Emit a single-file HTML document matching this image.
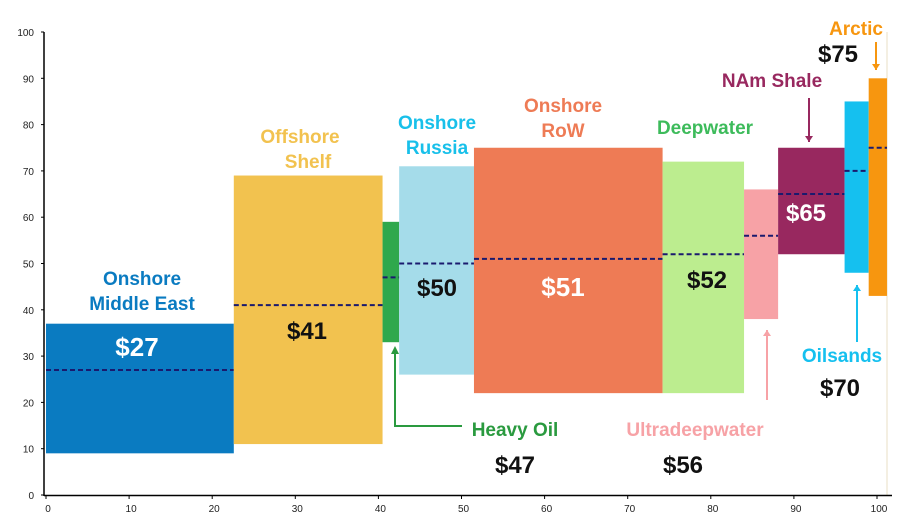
<!DOCTYPE html>
<html><head><meta charset="utf-8"><style>
body{margin:0;background:#fff;}
svg{display:block;font-family:"Liberation Sans",Arial,sans-serif;}
</style></head><body>
<svg id="c" width="904" height="524"></svg>
<script>
const names=["Onshore Middle East","Offshore Shelf","Heavy Oil","Onshore Russia","Onshore RoW","Deepwater","Ultradeepwater","NAm Shale","Oilsands","Arctic"];
const xStart=[0,22.6,40.5,42.5,51.5,74.2,84,88.1,96.1,99];
const xEnd=[22.6,40.5,42.5,51.5,74.2,84,88.1,96.1,99,101.2];
const lows=[9,11,33,26,22,22,38,52,48,43];
const highs=[37,69,59,71,75,72,66,75,85,90];
const medians=[27,41,47,50,51,52,56,65,70,75];
const colors=["#0a7bc1","#f2c24f","#2fa84c","#a5dcea","#ee7b55","#bced8f","#f7a2a6","#98285f","#15c0ef","#f7960f"];
const xTicks=[0,10,20,30,40,50,60,70,80,90,100];
const yTicks=[0,10,20,30,40,50,60,70,80,90,100];
const X=v=>46+v*8.31, Y=v=>495-v*4.63;
const svg=document.getElementById('c'), NS="http://www.w3.org/2000/svg";
function mk(t,a,p){const e=document.createElementNS(NS,t);for(const k in a)e.setAttribute(k,a[k]);(p||svg).appendChild(e);return e;}
// frame right line
let fr=mk('line',{x1:887,y1:32,x2:887,y2:495,stroke:'#eadfc4','stroke-width':1});


names.forEach((n,i)=>{
  const r=mk('rect',{x:X(xStart[i]),y:Y(highs[i]),width:X(xEnd[i])-X(xStart[i]),height:Y(lows[i])-Y(highs[i]),fill:colors[i]});
  
  
  const l=mk('line',{x1:X(xStart[i]),x2:X(xEnd[i]),y1:Y(medians[i]),y2:Y(medians[i]),stroke:'#1a1a6e','stroke-width':2,'stroke-dasharray':'5,3'});
  
  
});
// axes
let ax=mk('line',{x1:44,y1:32,x2:44,y2:496,stroke:'#000','stroke-width':1.5});


let axx=mk('line',{x1:44,y1:495.5,x2:892,y2:495.5,stroke:'#000','stroke-width':1.5});


yTicks.forEach(v=>{
  mk('line',{x1:41,x2:44,y1:Y(v),y2:Y(v),stroke:'#000'});
  const t=mk('text',{x:34,y:Y(v)+4,'font-size':10,'text-anchor':'end',fill:'#222'});t.textContent=v;
  
  
});
xTicks.forEach(v=>{
  mk('line',{x1:X(v),x2:X(v),y1:495,y2:499,stroke:'#000'});
  const t=mk('text',{x:X(v)+2,y:512,'font-size':10,'text-anchor':'middle',fill:'#222'});t.textContent=v;
  
  
});
function txt(s,x,y,size,fill,name){const t=mk('text',{x:x,y:y,'font-size':size,'font-weight':'bold','text-anchor':'middle',fill:fill});t.textContent=s;
  
  return t;}
function arrow(x,y1,y2,c){mk('line',{x1:x,x2:x,y1:y1,y2:y2,stroke:c,'stroke-width':2});const d=y2>y1?1:-1;mk('polygon',{points:`${x-4},${y2-6*d} ${x+4},${y2-6*d} ${x},${y2}`,fill:c});}
txt('Onshore',142,285,19,'#0a7bc1','label-onshore-me');
txt('Middle East',142,310,19,'#0a7bc1','label-onshore-me-2');
txt('$27',137,356,26,'#fff','value-27');
txt('Offshore',300,143,19,'#f2c24f','label-offshore');
txt('Shelf',308,168,19,'#f2c24f','label-shelf');
txt('$41',307,339,24,'#111','value-41');
txt('Onshore',437,129,19,'#18c0ea','label-onshore-russia');
txt('Russia',437,154,19,'#18c0ea','label-russia');
txt('$50',437,296,24,'#111','value-50');
txt('Onshore',563,112,19,'#ee7b55','label-onshore-row');
txt('RoW',563,137,19,'#ee7b55','label-row');
txt('$51',563,296,26,'#fff','value-51');
txt('Deepwater',705,134,19,'#3dbb5b','label-deepwater');
txt('$52',707,288,24,'#111','value-52');
txt('Heavy Oil',515,436,19,'#2a9a3f','label-heavy-oil');
txt('$47',515,473,24,'#111','value-47');
mk('polyline',{points:'462,426 395,426 395,348',fill:'none',stroke:'#2a9a3f','stroke-width':2});
mk('polygon',{points:'391,354 399,354 395,346',fill:'#2a9a3f'});
txt('Ultradeepwater',695,436,19,'#f7a2a6','label-ultradeepwater');
txt('$56',683,473,24,'#111','value-56');
arrow(767,400,330,'#f7a2a6');
txt('NAm Shale',772,87,19,'#98285f','label-nam-shale');
arrow(809,98,142,'#98285f');
txt('$65',806,221,24,'#fff','value-65');
txt('Oilsands',842,362,19,'#15c0ef','label-oilsands');
txt('$70',840,396,24,'#111','value-70');
arrow(857,342,285,'#15c0ef');
txt('Arctic',856,35,19,'#f7960f','label-arctic');
txt('$75',838,62,24,'#111','value-75');
arrow(876,42,70,'#f7960f');
</script>
</body></html>
